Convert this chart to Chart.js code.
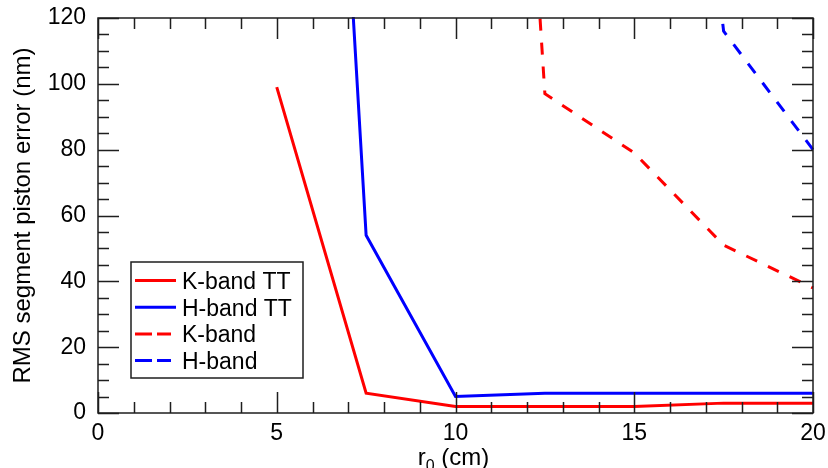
<!DOCTYPE html>
<html>
<head>
<meta charset="utf-8">
<script src="https://cdn.jsdelivr.net/npm/chart.js@4.4.1/dist/chart.umd.min.js"></script>
<style>
  html, body { margin: 0; padding: 0; background: #ffffff; }
  #wrap { width: 828px; height: 468px; }
</style>
</head>
<body>
<div id="wrap"><canvas id="c" width="828" height="468"></canvas></div>
<script>
// ---- data ----
const r0 = [5, 7.5, 10, 12.5, 15, 17.5, 20];
const kBandTT = [99, 6, 2, 2, 2, 3, 3];
const hBandTT = [515, 54, 5, 6, 6, 6, 6];
const kBand = [null, null, 520, 97, 79, 51, 38];
const hBand = [null, null, null, null, 350, 116, 80];
const seriesLabels = ['K-band TT', 'H-band TT', 'K-band', 'H-band'];
const xTickValues = [0, 5, 10, 15, 20];
const yTickValues = [0, 20, 40, 60, 80, 100, 120];

const RED = '#ff0000';
const BLUE = '#0000ff';
const FONT = "'Liberation Sans', Arial, Helvetica, sans-serif";
const DASH = [12, 12];

function pts(arr) {
  return r0.map((x, i) => ({ x: x, y: arr[i] })).filter(p => p.y !== null);
}

const frameTicks = {
  id: 'frameTicks',
  afterDraw(chart) {
    const { ctx, chartArea: a, scales: { x, y } } = chart;
    ctx.save();
    ctx.strokeStyle = '#1e1e1e';
    ctx.lineWidth = 1.5;
    ctx.beginPath();
    for (let v = x.min; v <= x.max; v += 1) {
      const px = Math.round(x.getPixelForValue(v)) + 0.5;
      const len = xTickValues.includes(v) ? 21 : 11;
      ctx.moveTo(px, a.bottom); ctx.lineTo(px, a.bottom - len);
      ctx.moveTo(px, a.top); ctx.lineTo(px, a.top + len);
    }
    for (let v = y.min; v <= y.max; v += 5) {
      const py = Math.round(y.getPixelForValue(v)) + 0.5;
      const len = yTickValues.includes(v) ? 21 : 11;
      ctx.moveTo(a.left, py); ctx.lineTo(a.left + len, py);
      ctx.moveTo(a.right, py); ctx.lineTo(a.right - len, py);
    }
    ctx.stroke();
    ctx.strokeRect(a.left, a.top, a.right - a.left, a.bottom - a.top);

    // axis titles
    ctx.fillStyle = '#000';
    ctx.font = '24px ' + FONT;
    ctx.textBaseline = 'alphabetic';
    ctx.save();
    ctx.translate(30, (a.top + a.bottom) / 2);
    ctx.rotate(-Math.PI / 2);
    ctx.textAlign = 'center';
    ctx.fillText('RMS segment piston error (nm)', 0, 0);
    ctx.restore();
    const big = '24px ' + FONT, small = '16px ' + FONT;
    ctx.font = big; const wR = ctx.measureText('r').width;
    ctx.font = small; const w0 = ctx.measureText('0').width;
    ctx.font = big; const wRest = ctx.measureText(' (cm)').width;
    const total = wR + w0 + wRest;
    let sx = (a.left + a.right) / 2 - total / 2 - 2;
    const by = 465;
    ctx.textAlign = 'left';
    ctx.font = big; ctx.fillText('r', sx, by); sx += wR;
    ctx.font = small; ctx.fillText('0', sx, by + 6); sx += w0;
    ctx.font = big; ctx.fillText(' (cm)', sx, by);
    ctx.restore();
  }
};

const boxLegend = {
  id: 'boxLegend',
  afterDraw(chart, args, opts) {
    const { ctx } = chart;
    ctx.save();
    ctx.fillStyle = '#fff';
    ctx.fillRect(opts.x, opts.y, opts.w, opts.h);
    ctx.strokeStyle = '#1e1e1e';
    ctx.lineWidth = 1.5;
    ctx.strokeRect(opts.x, opts.y, opts.w, opts.h);
    ctx.font = '23px ' + FONT;
    ctx.textBaseline = 'alphabetic';
    ctx.textAlign = 'left';
    chart.data.datasets.forEach((ds, i) => {
      const cy = opts.y + 18.5 + i * opts.rowH;
      const dashed = ds.borderDash && ds.borderDash.length;
      ctx.strokeStyle = ds.borderColor;
      ctx.lineWidth = 3;
      ctx.setLineDash(dashed ? [17, 5] : []);
      ctx.beginPath();
      ctx.moveTo(opts.x + 4, cy);
      ctx.lineTo(opts.x + (dashed ? 40 : 45), cy);
      ctx.stroke();
      ctx.setLineDash([]);
      ctx.fillStyle = '#000';
      ctx.fillText(ds.label, opts.x + 51, cy + 8.3);
    });
    ctx.restore();
  }
};

new Chart(document.getElementById('c'), {
  type: 'line',
  data: {
    datasets: [
      { label: seriesLabels[0], data: pts(kBandTT), borderColor: RED, borderWidth: 3, pointRadius: 0, fill: false, tension: 0, clip: 1 },
      { label: seriesLabels[1], data: pts(hBandTT), borderColor: BLUE, borderWidth: 3, pointRadius: 0, fill: false, tension: 0, clip: 1 },
      { label: seriesLabels[2], data: pts(kBand), borderColor: RED, borderWidth: 3, borderDash: DASH, pointRadius: 0, fill: false, tension: 0, clip: 1 },
      { label: seriesLabels[3], data: pts(hBand), borderColor: BLUE, borderWidth: 3, borderDash: DASH, pointRadius: 0, fill: false, tension: 0, clip: 1 }
    ]
  },
  options: {
    responsive: false,
    animation: false,
    devicePixelRatio: 1,
    layout: { padding: { top: 18, right: 15, left: 0, bottom: 0 } },
    plugins: {
      legend: { display: false },
      tooltip: { enabled: false },
      boxLegend: { x: 131, y: 262, w: 172, h: 116, rowH: 26.7 }
    },
    scales: {
      x: {
        type: 'linear', min: 0, max: 20,
        grid: { display: false, drawTicks: false },
        border: { display: false },
        ticks: {
          stepSize: 5, color: '#000', font: { size: 23, family: FONT }, padding: 7, maxRotation: 0,
          callback: v => xTickValues.includes(v) ? String(v) : ''
        },
        afterFit: s => { s.height = 55; s.paddingLeft = 0; s.paddingRight = 0; }
      },
      y: {
        type: 'linear', min: 0, max: 120,
        grid: { display: false, drawTicks: false },
        border: { display: false },
        ticks: {
          stepSize: 20, color: '#000', font: { size: 23, family: FONT }, padding: 12,
          callback: v => yTickValues.includes(v) ? String(v) : ''
        },
        afterFit: s => { s.width = 98; s.paddingTop = 0; s.paddingBottom = 0; }
      }
    }
  },
  plugins: [frameTicks, boxLegend]
});
</script>
</body>
</html>
